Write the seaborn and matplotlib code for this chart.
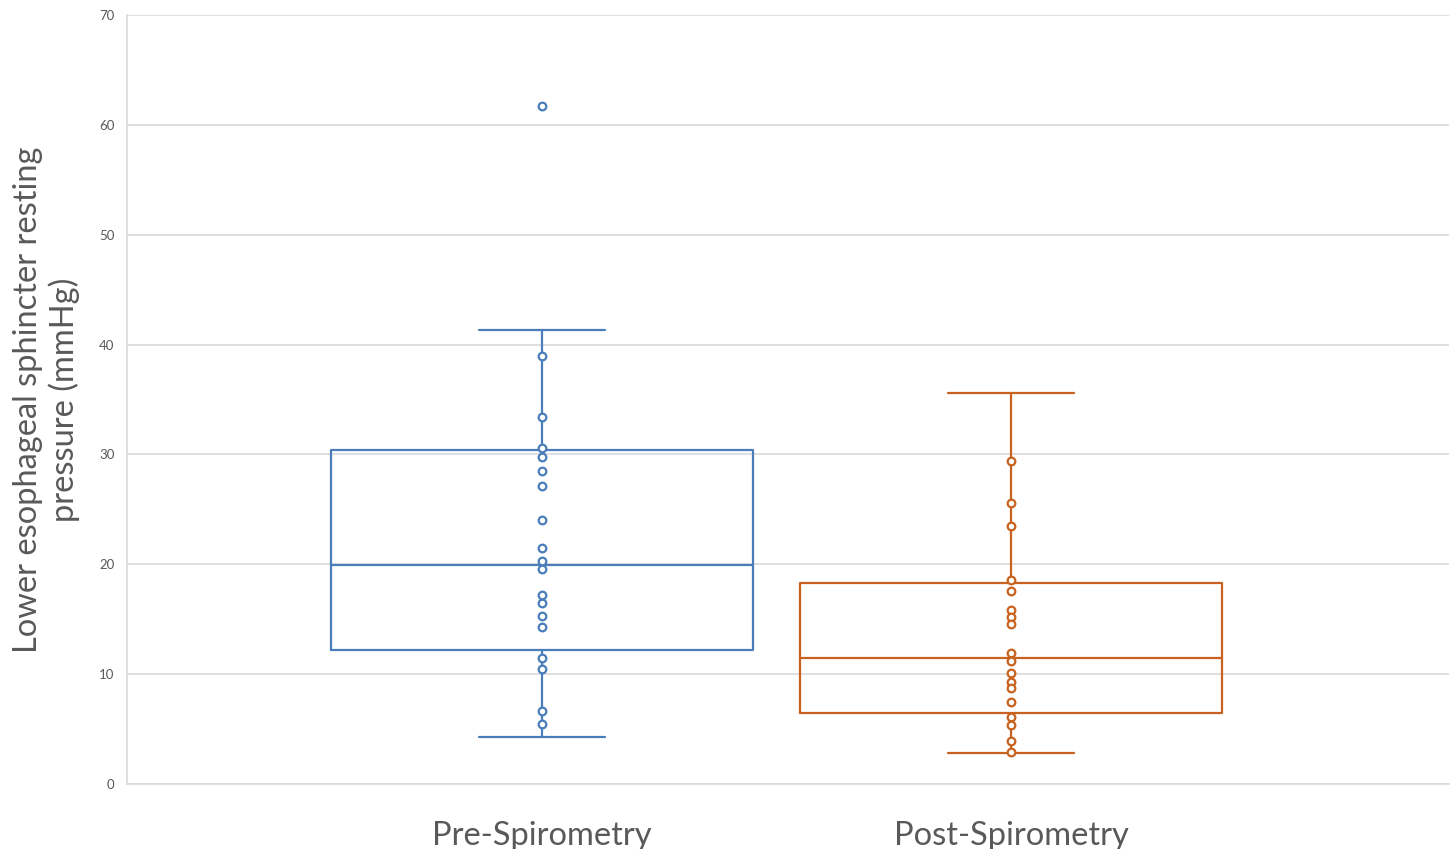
import numpy as np
import pandas as pd
import matplotlib
matplotlib.use("Agg")
import matplotlib.pyplot as plt
import seaborn as sns

# --- values ---
groups = ["Pre-Spirometry", "Post-Spirometry"]
colors = ["#4A7EBB", "#C8621E"]

pre_values = [61.7, 39.0, 33.4, 30.6, 29.8, 28.5, 27.1, 24.0, 21.5, 20.3,
              19.6, 17.2, 16.5, 15.3, 14.3, 11.5, 10.5, 6.6, 5.5]
post_values = [29.4, 25.6, 23.5, 18.6, 17.6, 15.8, 15.2, 14.6, 11.9, 11.2,
               10.1, 9.3, 8.7, 7.5, 6.1, 5.4, 3.9, 2.9]

# box statistics as shown in the chart (whisker low, Q1, median, Q3, whisker high)
whis_low = [4.3, 2.8]
q1 = [12.2, 6.5]
median = [19.9, 11.5]
q3 = [30.4, 18.3]
whis_high = [41.3, 35.6]

y_ticks = [0, 10, 20, 30, 40, 50, 60, 70]

df = pd.DataFrame({
    "group": [groups[0]] * len(pre_values) + [groups[1]] * len(post_values),
    "value": pre_values + post_values,
})

sns.set_theme(style="white")
plt.rcParams["font.family"] = ["Lato", "DejaVu Sans"]

fig = plt.figure(figsize=(14.53, 8.49), dpi=100)
ax = fig.add_axes([0.0874, 0.0766, 0.9098, 0.9057])

stats = []
for i, g in enumerate(groups):
    stats.append({"label": g, "whislo": whis_low[i], "q1": q1[i], "med": median[i],
                  "q3": q3[i], "whishi": whis_high[i], "fliers": []})

for i, st in enumerate(stats):
    c = colors[i]
    ax.bxp([st], positions=[i], widths=0.9, showfliers=False, capwidths=0.27,
           boxprops=dict(color=c, linewidth=1.6),
           medianprops=dict(color=c, linewidth=1.6),
           whiskerprops=dict(color=c, linewidth=1.6),
           capprops=dict(color=c, linewidth=1.6),
           manage_ticks=False, zorder=2)

sns.stripplot(data=df, x="group", y="value", hue="group", palette=colors,
              jitter=False, size=5.5, marker="o", linewidth=1.6,
              ax=ax, legend=False, zorder=3)
for coll, c in zip(ax.collections, colors):
    coll.set_facecolor("white")
    coll.set_edgecolor(c)

ax.set_xlim(-0.885, 1.934)
ax.set_ylim(0, 70)
ax.set_yticks(y_ticks)
ax.set_yticklabels([str(t) for t in y_ticks])
ax.yaxis.grid(True, color="#D9D9D9", linewidth=1.2)
ax.set_axisbelow(True)

for side in ["top", "right"]:
    ax.spines[side].set_visible(False)
for side in ["left", "bottom"]:
    ax.spines[side].set_color("#D9D9D9")
    ax.spines[side].set_linewidth(1.2)

ax.tick_params(axis="y", length=0, pad=9, labelsize=9.5, labelcolor="#595959")
ax.tick_params(axis="x", length=0, pad=27, labelsize=23.5, labelcolor="#595959")

ax.set_xlabel("")
ax.set_ylabel("Lower esophageal sphincter resting\npressure (mmHg)",
              fontsize=23.5, color="#595959", linespacing=1.2, va="center")
ax.yaxis.set_label_coords(-0.061, 0.5)

fig.savefig("out.png", dpi=100)
